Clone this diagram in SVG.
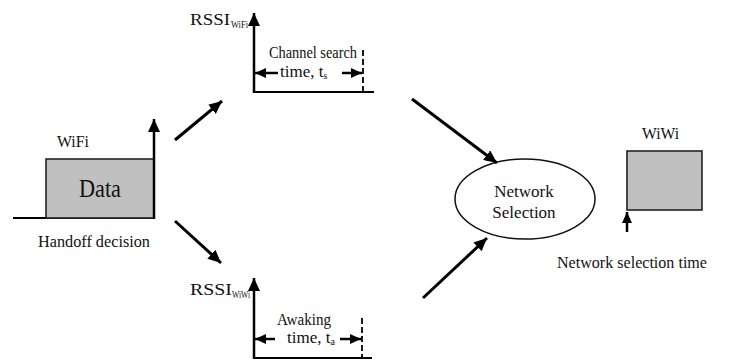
<svg xmlns="http://www.w3.org/2000/svg" width="729" height="362" viewBox="0 0 729 362">
<style>
text{font-family:'Liberation Serif','Times New Roman','DejaVu Serif',serif;fill:#111}
.t{font-size:17px}
.sub{font-size:10px}
.ax{stroke:#000;stroke-width:2.5;fill:none}
.base{stroke:#000;stroke-width:1.8;fill:none}
.dash{stroke:#000;stroke-width:1.8;stroke-dasharray:6,3;fill:none}
.conn{stroke:#000;stroke-width:3;fill:none}
.box{fill:#c0c0c0;stroke:#222;stroke-width:1.6}
</style>
<defs>
<marker id="ah" markerUnits="userSpaceOnUse" markerWidth="14" markerHeight="12" refX="13" refY="6" orient="auto">
<path d="M0,0 L13,6 L0,12 Z" fill="#000"/>
</marker>
<marker id="ahs" markerUnits="userSpaceOnUse" markerWidth="12" markerHeight="10" refX="11" refY="5" orient="auto">
<path d="M0,0 L11,5 L0,10 Z" fill="#000"/>
</marker>
</defs>
<rect width="729" height="362" fill="#fff"/>

<g id="wifi-data" font-family="Liberation Serif, serif">
<line class="base" x1="13" y1="218" x2="154" y2="218"/>
<rect class="box" x="46" y="159" width="108" height="59"/>
<line class="ax" x1="154" y1="219" x2="154" y2="119" marker-end="url(#ah)"/>
<text class="t" x="57" y="147" textLength="32" lengthAdjust="spacingAndGlyphs">WiFi</text>
<text x="79" y="197" font-size="25" textLength="42" lengthAdjust="spacingAndGlyphs">Data</text>
<text class="t" x="38" y="247" textLength="112" lengthAdjust="spacingAndGlyphs">Handoff decision</text>
</g>

<g id="rssi-wifi">
<line class="ax" x1="254" y1="93" x2="254" y2="13" marker-end="url(#ah)"/>
<line class="base" x1="254" y1="92" x2="374" y2="92"/>
<line class="dash" x1="363" y1="50" x2="363" y2="92"/>
<line class="ax" x1="278" y1="73" x2="255" y2="73" marker-end="url(#ahs)"/>
<line class="ax" x1="342" y1="73" x2="362" y2="73" marker-end="url(#ahs)"/>
<text class="t" x="190" y="25" textLength="40" lengthAdjust="spacingAndGlyphs">RSSI</text>
<text class="sub" x="231" y="28" textLength="17" lengthAdjust="spacingAndGlyphs">WiFi</text>
<text class="t" x="269" y="58" textLength="88" lengthAdjust="spacingAndGlyphs">Channel search</text>
<text class="t" x="280" y="77">time, t<tspan class="sub" dy="2">s</tspan></text>
</g>

<g id="rssi-wiwi">
<line class="ax" x1="254" y1="359" x2="254" y2="278" marker-end="url(#ah)"/>
<line class="base" x1="254" y1="358" x2="372" y2="358"/>
<line class="dash" x1="362" y1="318" x2="362" y2="358"/>
<line class="ax" x1="275" y1="339" x2="255" y2="339" marker-end="url(#ahs)"/>
<line class="ax" x1="340" y1="339" x2="361" y2="339" marker-end="url(#ahs)"/>
<text class="t" x="190" y="295" textLength="42" lengthAdjust="spacingAndGlyphs">RSSI</text>
<text class="sub" x="232" y="298" textLength="18" lengthAdjust="spacingAndGlyphs">WiWi</text>
<text class="t" x="277" y="325" textLength="54" lengthAdjust="spacingAndGlyphs">Awaking</text>
<text class="t" x="287" y="343">time, t<tspan class="sub" dy="2">a</tspan></text>
</g>

<g id="network-selection">
<ellipse cx="525" cy="199" rx="70" ry="40" fill="#fff" stroke="#111" stroke-width="1.5"/>
<text class="t" x="524" y="197" text-anchor="middle">Network</text>
<text class="t" x="524" y="218" text-anchor="middle">Selection</text>
</g>

<g id="wiwi">
<rect class="box" x="627" y="151" width="75" height="59"/>
<text class="t" x="642" y="139" textLength="37" lengthAdjust="spacingAndGlyphs">WiWi</text>
<line class="ax" x1="627" y1="232" x2="627" y2="212" marker-end="url(#ahs)"/>
<text class="t" x="557" y="268" textLength="150" lengthAdjust="spacingAndGlyphs">Network selection time</text>
</g>

<g id="connectors">
<line class="conn" x1="175" y1="140" x2="222" y2="101" marker-end="url(#ah)"/>
<line class="conn" x1="175" y1="221" x2="221" y2="263" marker-end="url(#ah)"/>
<line class="conn" x1="412" y1="99" x2="497" y2="163" marker-end="url(#ah)"/>
<line class="conn" x1="423" y1="298" x2="487" y2="238" marker-end="url(#ah)"/>
</g>
</svg>
